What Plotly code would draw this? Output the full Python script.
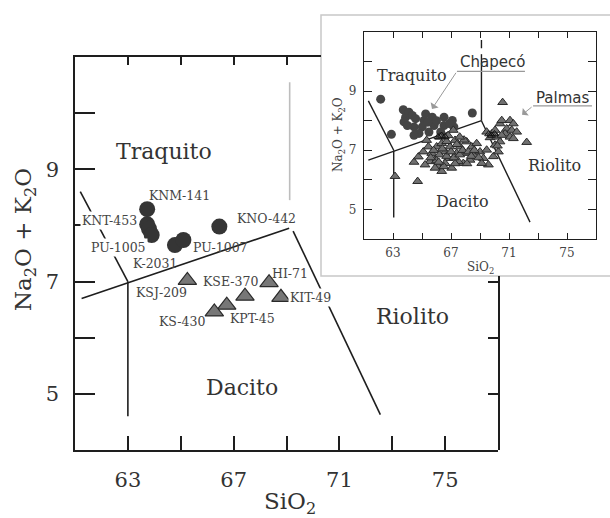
import plotly.graph_objects as go

# ---------------- data: main diagram ----------------
circle_x = [63.73, 63.73, 63.80, 63.90, 64.78, 65.10, 66.46]
circle_y = [8.29, 8.02, 7.94, 7.83, 7.65, 7.74, 7.98]

tri_x = [65.25, 67.43, 68.34, 68.79, 66.74, 66.27]
tri_y = [7.02, 6.74, 6.98, 6.72, 6.58, 6.46]

sample_names = ["KNM-141", "KNT-453", "PU-1005", "K-2031", "PU-1007", "KNO-442",
                "KSJ-209", "KSE-370", "HI-71", "KIT-49", "KPT-45", "KS-430"]
sample_label_x = [64.97, 62.29, 62.63, 64.03, 66.50, 68.26, 64.29, 66.90, 69.15, 69.92, 67.72, 65.05]
sample_label_y = [8.54, 8.09, 7.61, 7.33, 7.61, 8.13, 6.81, 7.01, 7.15, 6.71, 6.35, 6.28]
masked_labels = ["KNT-453", "PU-1005", "KIT-49"]

field_names = ["Traquito", "Riolito", "Dacito"]
field_x = [64.37, 73.75, 67.32]
field_y = [9.31, 6.37, 5.12]

x_major = [63, 67, 71, 75]
x_minor = [65, 69, 73]
y_major = [5, 7, 9]
y_minor = [6, 8, 10]

# field boundary segments (x0, y0, x1, y1)
bound_main = [
    (61.2, 8.60, 63.0, 7.00),
    (61.25, 6.70, 69.10, 7.95),
    (63.0, 7.00, 63.0, 4.60),
    (69.25, 7.90, 72.55, 4.63),
]
bound_main_gray = [(69.12, 10.55, 69.12, 8.45)]

# ---------------- data: inset ----------------
in_circle_x = [62.15, 62.89, 68.47, 63.71, 63.87, 63.76, 64.10, 64.33, 64.56, 64.45, 63.99,
               65.14, 65.02, 64.79, 65.25, 65.71, 65.83, 65.48, 66.52, 66.52, 66.29, 67.09,
               67.20, 66.00, 64.45, 66.90, 65.40]
in_circle_y = [8.73, 7.54, 8.26, 8.37, 8.12, 7.96, 8.29, 8.18, 8.07, 7.79, 7.84,
               8.01, 7.79, 7.57, 8.23, 8.12, 7.84, 7.62, 8.12, 7.84, 7.62, 8.01,
               7.79, 8.00, 7.51, 7.90, 7.95]

in_tri_x = [63.14, 64.70, 64.45, 64.75, 65.09, 65.44, 65.32, 65.67, 65.90, 65.55, 66.13, 66.36,
            66.01, 66.36, 66.24, 66.59, 66.82, 66.93, 67.16, 67.28, 67.39, 67.62, 67.85, 67.97,
            68.08, 68.43, 68.66, 68.77, 69.00, 69.23, 69.46, 69.58, 69.92, 70.04, 70.27, 65.90,
            66.59, 67.05, 67.51, 68.31, 69.12, 65.21, 67.28, 65.80, 66.20, 66.40, 66.70, 66.70,
            67.00, 67.20, 67.60, 67.80, 67.90, 68.20, 68.40, 68.60, 66.00, 66.50, 67.40, 68.10,
            68.90, 66.80, 67.60, 65.60, 66.15,
            69.46, 69.81, 70.04, 69.69, 70.15, 70.38, 70.50, 71.07, 71.30, 70.84, 71.19, 71.53,
            70.73, 71.07, 70.50, 70.38, 71.30, 72.22, 70.56, 70.20]
in_tri_y = [6.12, 5.95, 6.60, 6.78, 6.95, 7.12, 7.34, 6.90, 6.68, 6.62, 6.45, 6.29,
            7.12, 7.23, 7.45, 6.95, 6.73, 7.12, 7.68, 7.34, 6.90, 7.12, 6.56, 6.90,
            7.29, 7.12, 6.79, 7.23, 6.95, 6.73, 7.01, 6.51, 6.79, 7.18, 6.95, 6.40,
            6.56, 6.40, 6.62, 6.67, 6.56, 6.51, 6.55, 7.00, 6.85, 7.05, 6.80, 7.30,
            6.95, 6.75, 6.85, 7.00, 7.35, 6.95, 6.80, 7.00, 6.65, 6.45, 7.20, 6.55,
            6.75, 7.50, 7.45, 6.75, 6.60,
            7.62, 7.56, 7.68, 7.43, 7.45, 7.90, 8.01, 8.01, 7.90, 7.73, 7.68, 7.62,
            7.56, 7.45, 7.51, 7.29, 7.40, 7.27, 8.62, 7.15]

in_open_x = [66.10, 66.35, 66.60, 69.60, 69.80, 70.00]
in_open_y = [7.45, 7.50, 7.45, 7.55, 7.50, 7.55]

in_field_x = [64.31, 74.17, 67.76]
in_field_y = [9.53, 6.50, 5.27]

bound_inset = [
    (61.30, 8.67, 63.05, 7.00),
    (61.30, 6.67, 69.10, 8.00),
    (63.05, 7.00, 63.05, 4.73),
    (69.10, 8.00, 72.45, 4.57),
    (69.10, 8.00, 69.10, 10.25),
    (69.10, 10.45, 69.10, 10.73),
]

group_names = ["Chapecó", "Palmas"]
group_text_x = [69.83, 74.72]
group_text_y = [9.97, 8.77]
group_underline = [(67.41, 9.67, 72.10, 9.67), (72.66, 8.50, 76.72, 8.50)]
group_arrow_tip = [(65.69, 8.40), (71.90, 8.20)]

SERIF = "DejaVu Serif"
W, H = 610, 518

fig = go.Figure()

def seg_trace(segs, xa, ya, color, width):
    xs, ys = [], []
    for x0, y0, x1, y1 in segs:
        xs += [x0, x1, None]
        ys += [y0, y1, None]
    return go.Scatter(x=xs, y=ys, mode="lines", xaxis=xa, yaxis=ya,
                      line=dict(color=color, width=width), hoverinfo="skip", showlegend=False)

# main boundaries
fig.add_trace(seg_trace(bound_main, "x", "y", "#1e1e1e", 1.6))
fig.add_trace(seg_trace(bound_main_gray, "x", "y", "#bdbdbd", 1.6))
# main markers
fig.add_trace(go.Scatter(x=circle_x, y=circle_y, mode="markers", xaxis="x", yaxis="y",
                         marker=dict(symbol="circle", size=16, color="#353535",
                                     line=dict(width=0)), showlegend=False))
fig.add_trace(go.Scatter(x=tri_x, y=tri_y, mode="markers", xaxis="x", yaxis="y",
                         marker=dict(symbol="triangle-up", size=16, color="#777777",
                                     line=dict(width=1.2, color="#2a2a2a")), showlegend=False))

# inset
fig.add_trace(seg_trace(bound_inset, "x2", "y2", "#1e1e1e", 1.4))
fig.add_trace(go.Scatter(x=in_circle_x, y=in_circle_y, mode="markers", xaxis="x2", yaxis="y2",
                         marker=dict(symbol="circle", size=9, color="#444444", line=dict(width=0)),
                         showlegend=False))
fig.add_trace(go.Scatter(x=in_tri_x, y=in_tri_y, mode="markers", xaxis="x2", yaxis="y2",
                         marker=dict(symbol="triangle-up", size=8.5, color="#707070",
                                     line=dict(width=1, color="#2a2a2a")), showlegend=False))
fig.add_trace(go.Scatter(x=in_open_x, y=in_open_y, mode="markers", xaxis="x2", yaxis="y2",
                         marker=dict(symbol="triangle-up-open", size=7, color="#111111",
                                     line=dict(width=1)), showlegend=False))
# dummy traces for partial frame axes
fig.add_trace(go.Scatter(x=[None], y=[None], xaxis="x3", yaxis="y", showlegend=False, hoverinfo="skip"))
fig.add_trace(go.Scatter(x=[None], y=[None], xaxis="x", yaxis="y3", showlegend=False, hoverinfo="skip"))

# geometry (pixels)
mL, mR, mT, mB = 75, 498, 57, 450
iL, iR, iT, iB = 364, 596, 32, 239
boxL, boxT, boxB = 321, 15, 276
px_per_x = (mR - mL) / 16.0
px_per_y = (mB - mT) / 7.0

def fx(p):
    return p / W

def fy(p):
    return 1 - p / H

axis_common = dict(showgrid=False, zeroline=False, showline=True, linecolor="#1e1e1e",
                   ticks="inside", tickcolor="#1e1e1e", fixedrange=True)

def minor(vals, length, width):
    return dict(tickvals=vals, ticks="inside", ticklen=length, tickwidth=width,
                tickcolor="#1e1e1e", showgrid=False)

fig.update_layout(
    width=W, height=H, margin=dict(l=0, r=0, t=0, b=0),
    paper_bgcolor="white", plot_bgcolor="rgba(0,0,0,0)", showlegend=False,
    xaxis=dict(**axis_common, domain=[fx(mL), fx(mR)], range=[61, 77], anchor="y",
               linewidth=1.6, tickwidth=1.6, ticklen=14,
               tickvals=x_major, ticktext=[str(v) for v in x_major],
               minor=minor(x_minor, 14, 1.6),
               tickfont=dict(family=SERIF, size=21, color="#333"), ticklabelstandoff=10),
    yaxis=dict(**axis_common, domain=[fy(mB), fy(mT)], range=[4, 11], anchor="x",
               linewidth=1.6, tickwidth=1.6, ticklen=20,
               tickvals=y_major, ticktext=[str(v) for v in y_major],
               minor=minor(y_minor, 20, 1.6),
               tickfont=dict(family=SERIF, size=21, color="#333"), ticklabelstandoff=10),
    xaxis3=dict(**axis_common, domain=[fx(mL), fx(boxL)], anchor="y", side="top",
                range=[61, 61 + (boxL - mL) / px_per_x], linewidth=1.6, tickwidth=1.6, ticklen=8,
                tickvals=[v for v in x_major + x_minor if v < 70], showticklabels=False),
    yaxis3=dict(**axis_common, domain=[fy(mB), fy(boxB)], anchor="x", side="right",
                range=[4, 4 + (mB - boxB) / px_per_y], linewidth=1.6, tickwidth=1.6, ticklen=10,
                tickvals=[v for v in y_major + y_minor if v < 7.1], showticklabels=False),
    xaxis2=dict(**axis_common, domain=[fx(iL), fx(iR)], range=[61, 77], anchor="y2",
                mirror="ticks", linewidth=1.4, tickwidth=1.2, ticklen=6,
                tickvals=x_major, ticktext=[str(v) for v in x_major],
                minor=minor(x_minor, 6, 1.2),
                tickfont=dict(family=SERIF, size=12, color="#444"), ticklabelstandoff=2),
    yaxis2=dict(**axis_common, domain=[fy(iB), fy(iT)], range=[4, 11], anchor="x2",
                mirror="ticks", linewidth=1.4, tickwidth=1.2, ticklen=8,
                tickvals=y_major, ticktext=[str(v) for v in y_major],
                minor=minor(y_minor, 8, 1.2),
                tickfont=dict(family=SERIF, size=12, color="#444"), ticklabelstandoff=4),
)

# inset box
fig.add_shape(type="rect", xref="paper", yref="paper", x0=fx(boxL), x1=1.02, y0=fy(boxB), y1=fy(boxT),
              line=dict(color="#c8c8c8", width=1.5), fillcolor="white", layer="below")

# sample labels (some with white background to mask lines as in the original)
for name, lx, ly in zip(sample_names, sample_label_x, sample_label_y):
    fig.add_annotation(x=lx, y=ly, xref="x", yref="y", text=name, showarrow=False,
                       xanchor="center", yanchor="middle",
                       font=dict(family=SERIF, size=12.5, color="#444"),
                       bgcolor="white" if name in masked_labels else "rgba(0,0,0,0)", borderpad=1)
for name, lx, ly in zip(field_names, field_x, field_y):
    fig.add_annotation(x=lx, y=ly, xref="x", yref="y", text=name, showarrow=False,
                       xanchor="center", yanchor="middle",
                       font=dict(family=SERIF, size=22, color="#333"))
for name, lx, ly in zip(field_names, in_field_x, in_field_y):
    fig.add_annotation(x=lx, y=ly, xref="x2", yref="y2", text=name, showarrow=False,
                       xanchor="center", yanchor="middle",
                       font=dict(family=SERIF, size=16, color="#333"))

# axis titles
fig.add_annotation(x=fx(25), y=fy(240), xref="paper", yref="paper", xanchor="center", yanchor="middle",
                   text="Na<sub>2</sub>O + K<sub>2</sub>O", textangle=-90, showarrow=False,
                   font=dict(family=SERIF, size=23, color="#333"))
fig.add_annotation(x=fx(290), y=fy(503), xref="paper", yref="paper", xanchor="center", yanchor="middle",
                   text="SiO<sub>2</sub>", showarrow=False,
                   font=dict(family=SERIF, size=23, color="#333"))
fig.add_annotation(x=fx(339), y=fy(135), xref="paper", yref="paper", xanchor="center", yanchor="middle",
                   text="Na<sub>2</sub>O + K<sub>2</sub>O", textangle=-90, showarrow=False,
                   font=dict(family=SERIF, size=12, color="#444"))
fig.add_annotation(x=fx(480), y=fy(268), xref="paper", yref="paper", xanchor="center", yanchor="middle",
                   text="SiO<sub>2</sub>", showarrow=False,
                   font=dict(family=SERIF, size=12, color="#444"))

# group labels with underline and arrow
for name, gx, gy, ul, tip in zip(group_names, group_text_x, group_text_y, group_underline, group_arrow_tip):
    fig.add_annotation(x=gx, y=gy, xref="x2", yref="y2", text=name, showarrow=False,
                       xanchor="center", yanchor="middle",
                       font=dict(family="DejaVu Sans", size=15, color="#333"))
    fig.add_shape(type="line", xref="x2", yref="y2", x0=ul[0], y0=ul[1], x1=ul[2], y1=ul[3],
                  line=dict(color="#999", width=1.2))
    fig.add_annotation(x=tip[0], y=tip[1], xref="x2", yref="y2", text="", showarrow=True,
                       ax=ul[0], ay=ul[1], axref="x2", ayref="y2",
                       arrowhead=1, arrowsize=1.6, arrowwidth=1, arrowcolor="#999")

fig.write_html("out.html")
